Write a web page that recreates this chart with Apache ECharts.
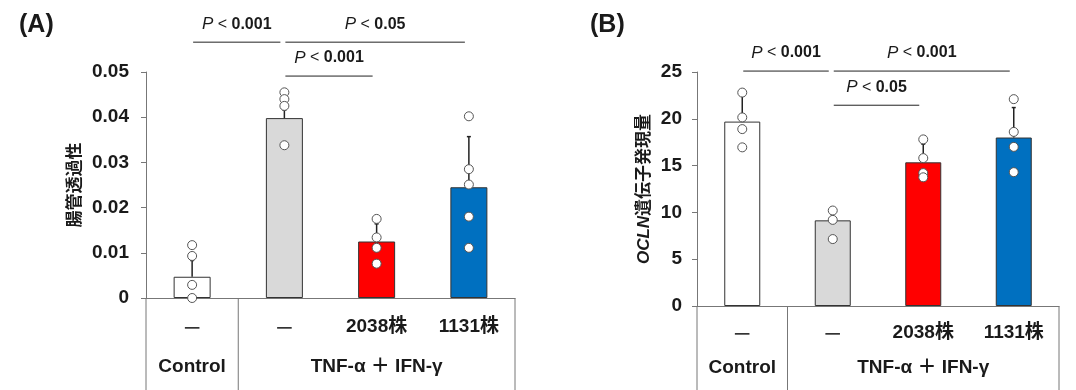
<!DOCTYPE html>
<html>
<head>
<meta charset="utf-8">
<script src="https://cdn.jsdelivr.net/npm/echarts@6/dist/echarts.min.js"></script>
<style>html,body{margin:0;padding:0;background:#fff}#c{width:1076px;height:390px}</style>
</head>
<body>
<div id="c"></div>
<script>
// ---- data ----
const categories = ['—', '—', '2038株', '1131株'];
const groups = [{ text: 'Control', from: 0, to: 0 }, { text: 'TNF-α ＋ IFN-γ', from: 1, to: 3 }];
const barColors = ['#ffffff', '#d9d9d9', '#ff0000', '#0070c0'];

const meanA = [0.0047, 0.0398, 0.0125, 0.0245];
const sdA = [0.0036, 0.0018, 0.0039, 0.0112];
const pointsA = [
  [0.0117, 0.0093, 0.0029, 0.0],
  [0.0455, 0.0440, 0.0425, 0.0338],
  [0.0175, 0.0134, 0.0111, 0.0076],
  [0.0402, 0.0285, 0.0251, 0.0180, 0.0111]
];
const ticksA = { min: 0, max: 0.05, interval: 0.01 };
const sigA = [
  { from: 0, to: 1, y: 0.0566, p: '0.001' },
  { from: 1, to: 3, y: 0.0566, p: '0.05' },
  { from: 1, to: 2, y: 0.0491, p: '0.001' }
];

const meanB = [19.7, 9.15, 15.35, 18.0];
const sdB = [3.1, 0.7, 1.95, 3.2];
const pointsB = [
  [22.8, 20.15, 18.9, 16.95],
  [10.2, 9.2, 7.15],
  [17.8, 15.8, 14.2, 13.75],
  [22.1, 18.6, 17.0, 14.3]
];
const ticksB = { min: 0, max: 25, interval: 5 };
const sigB = [
  { from: 0, to: 1, y: 25.1, p: '0.001' },
  { from: 1, to: 3, y: 25.1, p: '0.001' },
  { from: 1, to: 2, y: 21.45, p: '0.05' }
];

// ---- rendering ----
const FONT = '"Liberation Sans", "Noto Sans CJK JP", sans-serif';
const TXT = '#1a1a1a';
const AXIS = '#777777';

function panel(idx, mean, sd, points, ticks, sig, yName, nameGap, labelMargin, barW, groupOffset, yLabelMargin, fmt) {
  const ax = { xAxisIndex: idx, yAxisIndex: idx };
  const series = [];
  series.push(Object.assign({
    type: 'bar', barWidth: barW, z: 2,
    data: mean.map((v, i) => ({ value: v, itemStyle: { color: barColors[i], borderColor: '#333', borderWidth: 1 } }))
  }, ax));
  series.push(Object.assign({
    type: 'custom', z: 3, clip: false,
    data: mean.map((v, i) => [i, v, sd[i]]),
    renderItem: (params, api) => {
      const p0 = api.coord([api.value(0), api.value(1)]);
      const p1 = api.coord([api.value(0), api.value(1) + api.value(2)]);
      return { type: 'group', children: [
        { type: 'line', shape: { x1: p0[0], y1: p0[1], x2: p1[0], y2: p1[1] }, style: { stroke: '#222', lineWidth: 1.5 } },
        { type: 'line', shape: { x1: p1[0] - 2, y1: p1[1], x2: p1[0] + 2, y2: p1[1] }, style: { stroke: '#222', lineWidth: 1.5 } }
      ] };
    }
  }, ax));
  const pts = [];
  points.forEach((arr, i) => arr.forEach(v => pts.push([i, v])));
  series.push(Object.assign({
    type: 'scatter', z: 4, symbolSize: 9, data: pts,
    itemStyle: { color: '#ffffff', borderColor: '#555', borderWidth: 1, opacity: 1 }
  }, ax));
  // table frame + group labels
  series.push(Object.assign({
    type: 'custom', z: 1, clip: false, silent: true,
    data: [[0, 0]],
    renderItem: (params, api) => {
      const band = api.size([1, 0])[0];
      const y0 = api.coord([0, 0])[1];
      const yb = api.getHeight();
      const xs = [api.coord([0, 0])[0] - band / 2, api.coord([0, 0])[0] + band / 2, api.coord([3, 0])[0] + band / 2];
      const children = xs.map(x => ({ type: 'line', shape: { x1: x, y1: y0, x2: x, y2: yb }, style: { stroke: AXIS, lineWidth: 1 } }));
      groups.forEach(g => {
        const cx = (api.coord([g.from, 0])[0] + api.coord([g.to, 0])[0]) / 2;
        children.push({ type: 'text', style: { text: g.text, x: cx, y: y0 + groupOffset, align: 'center', verticalAlign: 'middle', font: 'bold 19px ' + FONT, fill: TXT } });
      });
      return { type: 'group', children };
    }
  }, ax));
  // significance brackets
  series.push(Object.assign({
    type: 'custom', z: 5, clip: false, silent: true,
    data: sig.map(s => [s.from, s.to, s.y]),
    renderItem: (params, api) => {
      const s = sig[params.dataIndex];
      const a = api.coord([s.from, s.y]);
      const b = api.coord([s.to, s.y]);
      const x1 = a[0] + 1, x2 = b[0] - 4;
      return { type: 'group', children: [
        { type: 'line', shape: { x1, y1: a[1], x2, y2: a[1] }, style: { stroke: '#222', lineWidth: 1 } },
        { type: 'text', style: {
          text: '{p|P}{lt| < }{n|' + s.p + '}', x: (x1 + x2) / 2, y: a[1] - 18, align: 'center', verticalAlign: 'middle',
          rich: {
            p: { fontFamily: FONT, fontSize: 17, fontStyle: 'italic', fill: TXT, color: TXT },
            lt: { fontFamily: FONT, fontSize: 16, fill: TXT, color: TXT },
            n: { fontFamily: FONT, fontSize: 16, fontWeight: 'bold', fill: TXT, color: TXT }
          } } }
      ] };
    }
  }, ax));
  const xAxis = {
    gridIndex: idx, type: 'category', data: categories,
    axisLine: { lineStyle: { color: AXIS, width: 1 } }, axisTick: { show: false },
    axisLabel: { margin: labelMargin, color: TXT, fontFamily: FONT, fontSize: 19, fontWeight: 'bold', interval: 0,
      formatter: v => v === '—' ? '{d|—}' : v, rich: { d: { fontFamily: '"Noto Sans CJK JP"', fontSize: 18, color: '#333' } } }
  };
  const yAxis = {
    gridIndex: idx, type: 'value', min: ticks.min, max: ticks.max, interval: ticks.interval,
    axisLine: { show: true, lineStyle: { color: AXIS, width: 1 } },
    axisTick: { show: true, length: 5, lineStyle: { color: AXIS } },
    splitLine: { show: false },
    axisLabel: { margin: yLabelMargin, color: TXT, fontFamily: FONT, fontSize: 19, fontWeight: 'bold', formatter: fmt },
    name: yName.text, nameLocation: 'middle', nameGap: nameGap, nameRotate: 90,
    nameTextStyle: Object.assign({ color: TXT, fontFamily: FONT, fontSize: 17, fontWeight: 'bold' }, yName.style || {})
  };
  return { series, xAxis, yAxis };
}

const pA = panel(0, meanA, sdA, pointsA, ticksA, sigA, { text: '腸管透過性' }, 62, 19, 37, 69, 17,
  v => v === 0 ? '0' : v.toFixed(2));
const pB = panel(1, meanB, sdB, pointsB, ticksB, sigB,
  { text: '{i|OCLN}遺伝子発現量', style: { rich: { i: { fontFamily: FONT, fontSize: 17, fontWeight: 'bold', fontStyle: 'italic', color: TXT } } } },
  44, 17, 36, 62, 15, v => String(v));

const chart = echarts.init(document.getElementById('c'), null, { renderer: 'canvas' });
chart.setOption({
  animation: false,
  backgroundColor: '#ffffff',
  title: [
    { text: '(A)', left: 14, top: 8, textStyle: { fontFamily: FONT, fontSize: 25, fontWeight: 'bold', color: TXT } },
    { text: '(B)', left: 585, top: 8, textStyle: { fontFamily: FONT, fontSize: 25, fontWeight: 'bold', color: TXT } }
  ],
  grid: [
    { left: 146, top: 72, width: 369, height: 226 },
    { left: 697, top: 72, width: 362, height: 234 }
  ],
  xAxis: [pA.xAxis, pB.xAxis],
  yAxis: [pA.yAxis, pB.yAxis],
  series: pA.series.concat(pB.series)
});
</script>
</body>
</html>
